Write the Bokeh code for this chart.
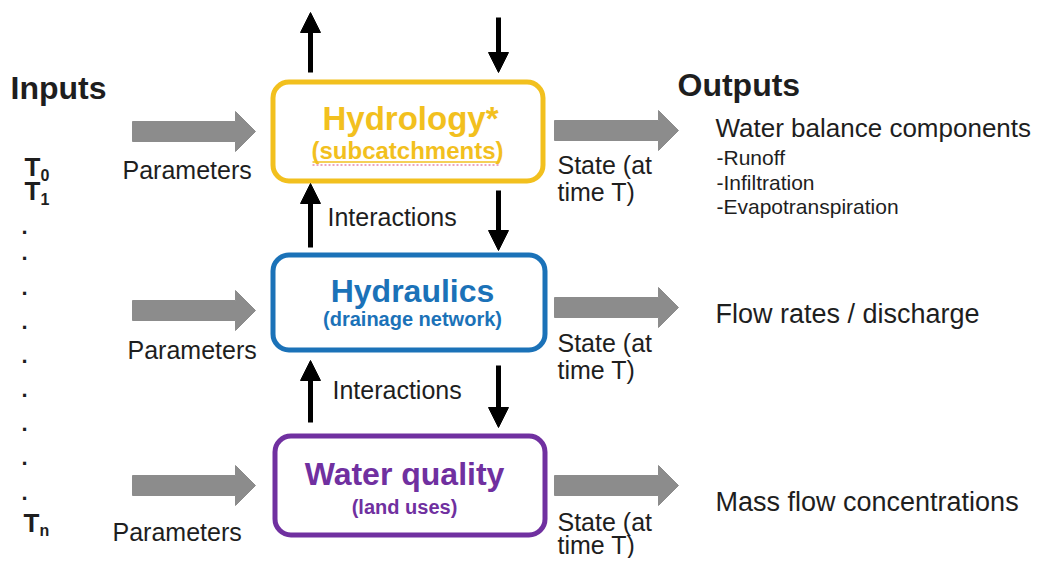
from bokeh.plotting import figure
from bokeh.models import Range1d, Arrow, NormalHead, ColumnDataSource
from bokeh.core.properties import value
from bokeh.embed import file_html
from bokeh.resources import INLINE

FONT = "Liberation Sans"
DARK = "#1e1e1e"
GRAY = "#8c8c8c"
BASE_SHIFT = 0.35  # renderer offset of the alphabetic baseline, in em

# ---- modules (boxes) ----
module_titles = ["Hydrology*", "Hydraulics", "Water quality"]
module_subtitles = ["(subcatchments)", "(drainage network)", "(land uses)"]
module_colors = ["#F2C01E", "#1B72B8", "#7030A0"]
box_left = [272.5, 272.5, 274.5]
box_right = [542.5, 544.5, 544.5]
box_top = [81.5, 254.5, 435.5]
box_bottom = [180.5, 349.5, 534.5]
title_x = [410, 412, 404]
title_base = [130, 302, 485]
title_size = [33, 32, 32]
sub_x = [407, 412, 404]
sub_base = [158, 325, 513]
sub_size = [24, 20, 20]

# ---- left side ----
input_arrow_x0 = [132, 132, 132]
input_arrow_x1 = [255, 255, 255]
input_arrow_y = [131, 310, 485]
param_labels = ["Parameters", "Parameters", "Parameters"]
param_x = [122, 127, 112]
param_base = [178, 358, 540]

time_main = ["T", "T", "T"]
time_sub = ["0", "1", "n"]
time_x = [24, 24, 23]
time_base = [176, 200, 532]
dot_y = [232, 258, 293, 327, 361, 395, 429, 463, 498]

# ---- right side ----
output_arrow_x0 = [554, 554, 554]
output_arrow_x1 = [678, 678, 678]
output_arrow_y = [130, 307, 485]
state_line1 = ["State (at", "State (at", "State (at"]
state_line2 = ["time T)", "time T)", "time T)"]
state_x = [557, 557, 557]
state_base1 = [173, 351, 530]
state_base2 = [200, 378, 553]
output_labels = ["Water balance components", "Flow rates / discharge", "Mass flow concentrations"]
output_x = [715, 715, 715]
output_base = [137, 323, 511]
output_size = [26, 27, 27]
wb_items = ["-Runoff", "-Infiltration", "-Evapotranspiration"]
wb_base = [164, 189, 213]

# ---- interaction arrows ----
up_x = [310, 310, 310]
up_start = [72, 247, 422]
up_end = [12, 183, 360]
down_x = [498, 498, 498]
down_start = [17, 190, 365]
down_end = [72, 250, 427]
inter_labels = ["Interactions", "Interactions"]
inter_x = [327, 332]
inter_base = [225, 398]

W, H = 1035, 558
p = figure(width=W, height=H, x_range=Range1d(0, W), y_range=Range1d(H, 0),
           output_backend="svg", toolbar_location=None, min_border=0,
           x_axis_location=None, y_axis_location=None)
p.grid.visible = False
p.outline_line_color = None
p.background_fill_color = "white"


def text(x, base, t, size, color=DARK, bold=False, align="left"):
    y = [b - BASE_SHIFT * size for b in base]
    p.text(x=x, y=y, text=t, text_font=value(FONT), text_font_size=value(f"{size}px"),
           text_color=color, text_font_style="bold" if bold else "normal",
           text_align=align, text_baseline="alphabetic")


def block_arrows(x0s, x1s, ycs, shaft_h=10, head_h=20, head_len=20):
    xs, ys = [], []
    for x0, x1, yc in zip(x0s, x1s, ycs):
        xb = x1 - head_len
        xs.append([x0, xb, xb, x1, xb, xb, x0])
        ys.append([yc - shaft_h, yc - shaft_h, yc - head_h, yc, yc + head_h, yc + shaft_h, yc + shaft_h])
    p.patches(xs, ys, fill_color=GRAY, line_color=GRAY, line_width=1)


# boxes
p.quad(left=box_left, right=box_right, top=box_top, bottom=box_bottom,
       fill_color="white", line_color=module_colors, line_width=5, border_radius=16)
for i in range(3):
    text([title_x[i]], [title_base[i]], [module_titles[i]], title_size[i], module_colors[i], True, "center")
    text([sub_x[i]], [sub_base[i]], [module_subtitles[i]], sub_size[i], module_colors[i], True, "center")

# underline marks below "(subcatchments)"
p.line(x=[312, 499], y=[161.5, 161.5], line_color=module_colors[0], line_width=1.5)
p.line(x=[312, 499], y=[164.5, 164.5], line_color="#d6507d", line_width=1.2, line_dash="2 2")

# gray block arrows
block_arrows(input_arrow_x0, input_arrow_x1, input_arrow_y)
block_arrows(output_arrow_x0, output_arrow_x1, output_arrow_y)

# black interaction arrows
src_up = ColumnDataSource(dict(x=up_x, y0=up_start, y1=up_end))
src_dn = ColumnDataSource(dict(x=down_x, y0=down_start, y1=down_end))
for src in (src_up, src_dn):
    p.add_layout(Arrow(x_start="x", y_start="y0", x_end="x", y_end="y1", source=src,
                       line_width=5, line_color="black",
                       end=NormalHead(size=20, fill_color="black", line_color="black", line_width=1)))

# left texts
text([10], [99], ["Inputs"], 32, DARK, True)
text(param_x, param_base, param_labels, 25)
text(time_x, time_base, time_main, 26, DARK, True)
text([x + 16 for x in time_x], [b + 4 for b in time_base], time_sub, 16, DARK, True)
text([21] * len(dot_y), [d + 2 for d in dot_y], ["."] * len(dot_y), 22, DARK, True)

# middle texts
text(inter_x, inter_base, inter_labels, 25)

# right texts
text([677], [96], ["Outputs"], 32, DARK, True)
text(state_x, state_base1, state_line1, 25)
text(state_x, state_base2, state_line2, 25)
for i in range(3):
    text([output_x[i]], [output_base[i]], [output_labels[i]], output_size[i])
text([716] * 3, wb_base, wb_items, 21)

open("out.html", "w").write(file_html(p, INLINE))
